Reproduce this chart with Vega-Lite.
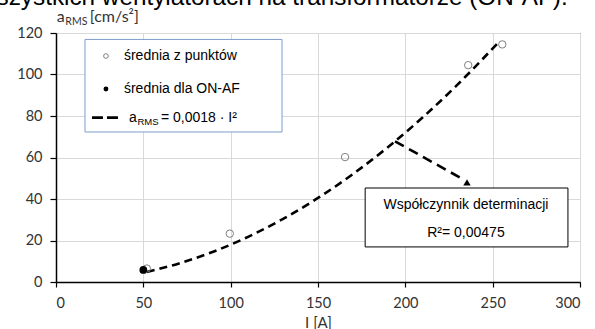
{
  "$schema": "https://vega.github.io/schema/vega-lite/v6.json",
  "width": 524,
  "height": 249,
  "autosize": {"type": "none"},
  "padding": {"left": 56, "top": 33, "right": 15, "bottom": 47},
  "title": {
    "text": "wszystkich wentylatorach na transformatorze (ON-AF).",
    "anchor": "start",
    "frame": "group",
    "font": "Liberation Sans",
    "fontSize": 24.3,
    "fontWeight": "normal",
    "color": "#000000",
    "baseline": "alphabetic",
    "offset": -20,
    "dx": -77
  },
  "config": {
    "view": {"stroke": "#404040", "strokeWidth": 1},
    "axis": {
      "grid": true,
      "gridColor": "#d9d9d9",
      "gridWidth": 1,
      "domainColor": "#000000",
      "domainWidth": 1.5,
      "tickColor": "#000000",
      "tickWidth": 1.2,
      "labelFont": "Lato",
      "labelFontSize": 14.5,
      "labelColor": "#333333",
      "titleFont": "Lato",
      "titleFontSize": 15,
      "titleFontWeight": "normal",
      "titleColor": "#333333"
    }
  },
  "datasets": {
    "curve": [
      {"x": 52, "y": 4.87}, {"x": 70, "y": 8.82}, {"x": 90, "y": 14.58}, {"x": 110, "y": 21.78},
      {"x": 130, "y": 30.42}, {"x": 150, "y": 40.5}, {"x": 170, "y": 52.02}, {"x": 190, "y": 64.98},
      {"x": 210, "y": 79.38}, {"x": 230, "y": 95.22}, {"x": 254, "y": 116.1}
    ],
    "avg": [
      {"x": 52, "y": 6.5}, {"x": 99.5, "y": 23.3}, {"x": 165.5, "y": 60.2}, {"x": 236, "y": 104.5}, {"x": 255.5, "y": 114.5}
    ],
    "onaf": [{"x": 50, "y": 5.8}],
    "arrow": [{"x": 194.1, "y": 67.8, "x2": 233.5, "y2": 49.3}],
    "head": [{"x": 235.3, "y": 48}],
    "legendBox": [{"x": 16.6, "x2": 129.4, "y": 116.9, "y2": 72.3}],
    "annotBox": [{"x": 177, "x2": 293.1, "y": 45.3, "y2": 16.9}],
    "legendOpen": [{"x": 28.6, "y": 108.9}],
    "legendFilled": [{"x": 28.6, "y": 93}],
    "legendLine": [{"x": 20.6, "x2": 36.6, "y": 79.2, "y2": 79.2}],
    "legendText": [
      {"x": 38.9, "y": 108.9, "label": "średnia z punktów"},
      {"x": 38.9, "y": 93, "label": "średnia dla ON-AF"}
    ],
    "eqMain": [{"x": 41.8, "y": 79.2, "label": "a"}],
    "eqSub": [{"x": 41.8, "y": 79.2, "label": "RMS"}],
    "eqRest": [{"x": 41.8, "y": 79.2, "label": "= 0,0018 · I²"}],
    "annotText": [
      {"x": 234.7, "y": 37.1, "label": "Współczynnik determinacji"},
      {"x": 234.7, "y": 23.6, "label": "R²= 0,00475"}
    ],
    "yMain": [{"x": 0.5, "y": 125.3, "label": "a"}],
    "ySub": [{"x": 0.5, "y": 125.3, "label": "RMS"}],
    "yRest": [{"x": 0.5, "y": 125.3, "label": "[cm/s²]"}]
  },
  "encoding": {
    "x": {
      "field": "x",
      "type": "quantitative",
      "scale": {"domain": [0, 300], "nice": false, "zero": false},
      "axis": {
        "values": [0, 50, 100, 150, 200, 250, 300],
        "tickSize": 5,
        "labelPadding": 9,
        "title": "I [A]",
        "titlePadding": 6
      }
    },
    "y": {
      "field": "y",
      "type": "quantitative",
      "scale": {"domain": [0, 120], "nice": false, "zero": false},
      "axis": {
        "values": [0, 20, 40, 60, 80, 100, 120],
        "tickSize": 6,
        "labelPadding": 8,
        "title": null
      }
    }
  },
  "layer": [
    {"data": {"name": "legendBox"}, "mark": {"type": "rect", "fill": "white", "stroke": "#7f9ccf", "strokeWidth": 1},
     "encoding": {"x2": {"field": "x2"}, "y2": {"field": "y2"}}},
    {"data": {"name": "annotBox"}, "mark": {"type": "rect", "fill": "white", "stroke": "#000000", "strokeWidth": 1},
     "encoding": {"x2": {"field": "x2"}, "y2": {"field": "y2"}}},
    {"data": {"name": "curve"}, "mark": {"type": "line", "color": "#000000", "strokeWidth": 2.6, "strokeDash": [8, 5], "interpolate": "monotone"}},
    {"data": {"name": "avg"}, "mark": {"type": "point", "shape": "circle", "filled": false, "stroke": "#808080", "strokeWidth": 1, "size": 55, "opacity": 1}},
    {"data": {"name": "onaf"}, "mark": {"type": "point", "shape": "circle", "filled": true, "color": "#000000", "size": 60, "opacity": 1}},
    {"data": {"name": "arrow"}, "mark": {"type": "rule", "color": "#000000", "strokeWidth": 2.6, "strokeDash": [10, 6]},
     "encoding": {"x2": {"field": "x2"}, "y2": {"field": "y2"}}},
    {"data": {"name": "head"}, "mark": {"type": "point", "shape": "triangle-up", "filled": true, "color": "#000000", "size": 55, "opacity": 1}},
    {"data": {"name": "legendOpen"}, "mark": {"type": "point", "shape": "circle", "filled": false, "stroke": "#808080", "strokeWidth": 1, "size": 22, "opacity": 1}},
    {"data": {"name": "legendFilled"}, "mark": {"type": "point", "shape": "circle", "filled": true, "color": "#000000", "size": 24, "opacity": 1}},
    {"data": {"name": "legendLine"}, "mark": {"type": "rule", "color": "#000000", "strokeWidth": 2.6, "strokeDash": [11, 4]},
     "encoding": {"x2": {"field": "x2"}, "y2": {"field": "y2"}}},
    {"data": {"name": "legendText"}, "mark": {"type": "text", "font": "Liberation Sans", "fontSize": 14, "align": "left", "baseline": "middle", "color": "#000000"},
     "encoding": {"text": {"field": "label"}}},
    {"data": {"name": "eqMain"}, "mark": {"type": "text", "font": "Liberation Sans", "fontSize": 14, "align": "left", "baseline": "middle", "color": "#000000"},
     "encoding": {"text": {"field": "label"}}},
    {"data": {"name": "eqSub"}, "mark": {"type": "text", "font": "Liberation Sans", "fontSize": 9.5, "align": "left", "baseline": "middle", "color": "#000000", "dx": 8.5, "dy": 4},
     "encoding": {"text": {"field": "label"}}},
    {"data": {"name": "eqRest"}, "mark": {"type": "text", "font": "Liberation Sans", "fontSize": 14, "align": "left", "baseline": "middle", "color": "#000000", "dx": 32},
     "encoding": {"text": {"field": "label"}}},
    {"data": {"name": "annotText"}, "mark": {"type": "text", "font": "Liberation Sans", "fontSize": 14, "align": "center", "baseline": "middle", "color": "#000000"},
     "encoding": {"text": {"field": "label"}}},
    {"data": {"name": "yMain"}, "mark": {"type": "text", "font": "Lato", "fontSize": 16, "align": "left", "baseline": "alphabetic", "color": "#333333"},
     "encoding": {"text": {"field": "label"}}},
    {"data": {"name": "ySub"}, "mark": {"type": "text", "font": "Lato", "fontSize": 10.5, "align": "left", "baseline": "alphabetic", "color": "#333333", "dx": 8.5, "dy": 3},
     "encoding": {"text": {"field": "label"}}},
    {"data": {"name": "yRest"}, "mark": {"type": "text", "font": "Lato", "fontSize": 16, "align": "left", "baseline": "alphabetic", "color": "#333333", "dx": 33},
     "encoding": {"text": {"field": "label"}}}
  ]
}
